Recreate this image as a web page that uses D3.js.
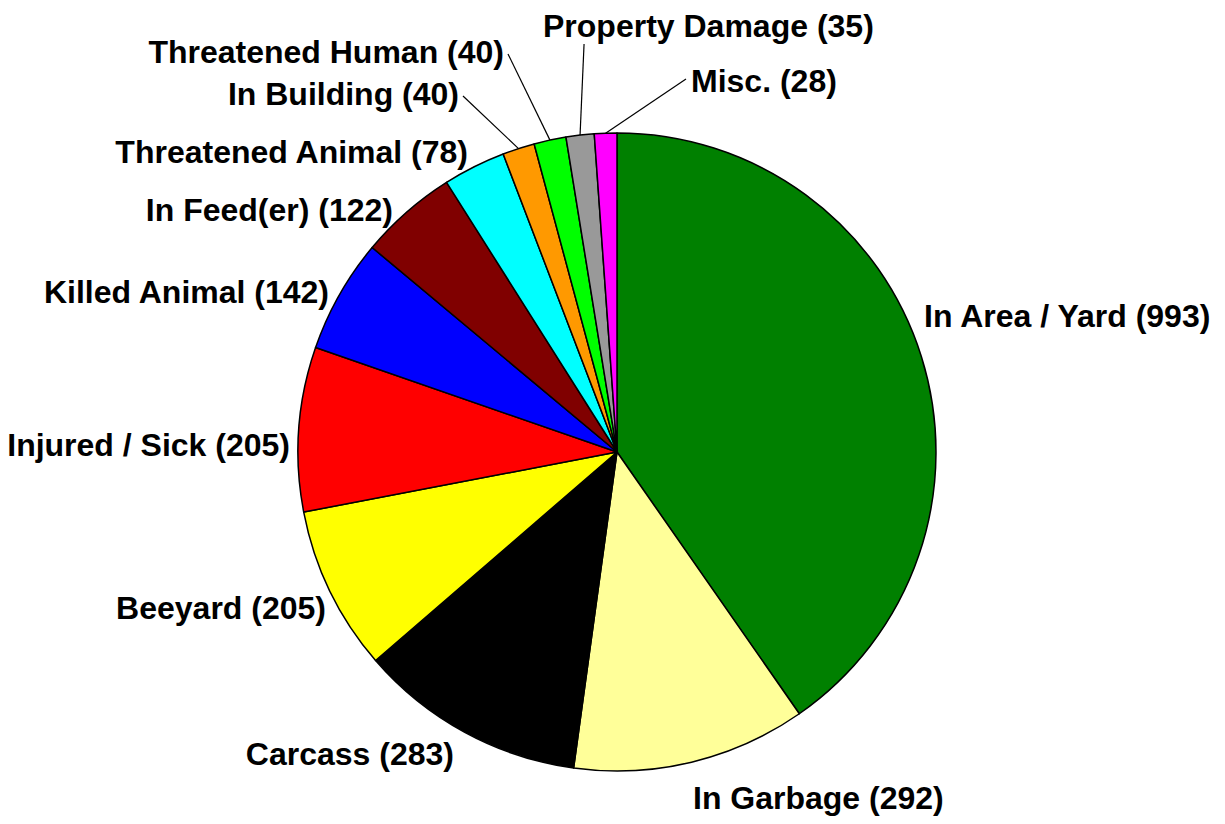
<!DOCTYPE html>
<html>
<head>
<meta charset="utf-8">
<script src="https://cdn.jsdelivr.net/npm/d3@7"></script>
<style>
  body { margin: 0; background: #fff; }
  text { font-family: "Liberation Sans", Arial, sans-serif; font-weight: bold; }
</style>
</head>
<body>
<script>
var categories = ["In Area / Yard", "In Garbage", "Carcass", "Beeyard", "Injured / Sick",
                  "Killed Animal", "In Feed(er)", "Threatened Animal", "In Building",
                  "Threatened Human", "Property Damage", "Misc."];
var counts = [993, 292, 283, 205, 205, 142, 122, 78, 40, 40, 35, 28];
var colors = ["#008000", "#ffff99", "#000000", "#ffff00", "#ff0000", "#0000ff",
              "#800000", "#00ffff", "#ff9900", "#00ff00", "#999999", "#ff00ff"];

// where the labels were placed in the original chart (anchor, x, baseline)
var labelPos = [
  ["start", 924, 327], ["start", 693, 809], ["end", 454, 765], ["end", 326, 619],
  ["end", 290, 456], ["end", 329, 303], ["end", 393, 221], ["end", 468, 163],
  ["end", 459, 105], ["end", 504, 63], ["start", 543, 37], ["start", 691, 92]
];
var leader = [false, false, false, false, false, false, false, false, true, true, true, true];

var w = 1225, h = 824;
var cx = 617, cy = 452, r = 319;
var fontSize = 32;

var svg = d3.select("body")
            .append("svg")
            .attr("width", w)
            .attr("height", h);

var data = categories.map(function(c, i) {
  return {name: c, value: counts[i], color: colors[i], i: i};
});

var pie = d3.pie()
  .value(function(d) { return d.value; })
  .sort(null);

var arcs = pie(data);

var arc = d3.arc().innerRadius(0).outerRadius(r);

var g = svg.append("g").attr("transform", "translate(" + cx + "," + cy + ")");

g.selectAll("path")
  .data(arcs)
  .enter()
  .append("path")
    .attr("d", arc)
    .style("fill", function(d) { return d.data.color; })
    .style("stroke", "#000")
    .style("stroke-width", 1.5)
    .style("stroke-linejoin", "round");

var labels = svg.selectAll("text.lbl")
  .data(arcs)
  .enter()
  .append("text")
    .attr("class", "lbl")
    .attr("x", function(d) { return labelPos[d.index][1]; })
    .attr("y", function(d) { return labelPos[d.index][2]; })
    .attr("text-anchor", function(d) { return labelPos[d.index][0]; })
    .style("font-size", fontSize + "px")
    .style("fill", "#000")
    .text(function(d) { return d.data.name + " (" + d.data.value + ")"; });

// leader lines for the thin slices
labels.each(function(d) {
  if (!leader[d.index]) return;
  var a = (d.startAngle + d.endAngle) / 2;
  var px = cx + r * Math.sin(a), py = cy - r * Math.cos(a);
  var b = this.getBBox();
  var ex, ey;
  if (px >= b.x && px <= b.x + b.width) {
    ex = px + 4; ey = b.y + b.height;
  } else if (px < b.x) {
    ex = b.x - 5; ey = b.y + b.height / 2 - 2;
  } else {
    ex = b.x + b.width + 4; ey = b.y + b.height / 2 + 2;
  }
  svg.append("line")
    .attr("x1", px).attr("y1", py)
    .attr("x2", ex).attr("y2", ey)
    .style("stroke", "#000")
    .style("stroke-width", 1.2);
});
</script>
</body>
</html>
